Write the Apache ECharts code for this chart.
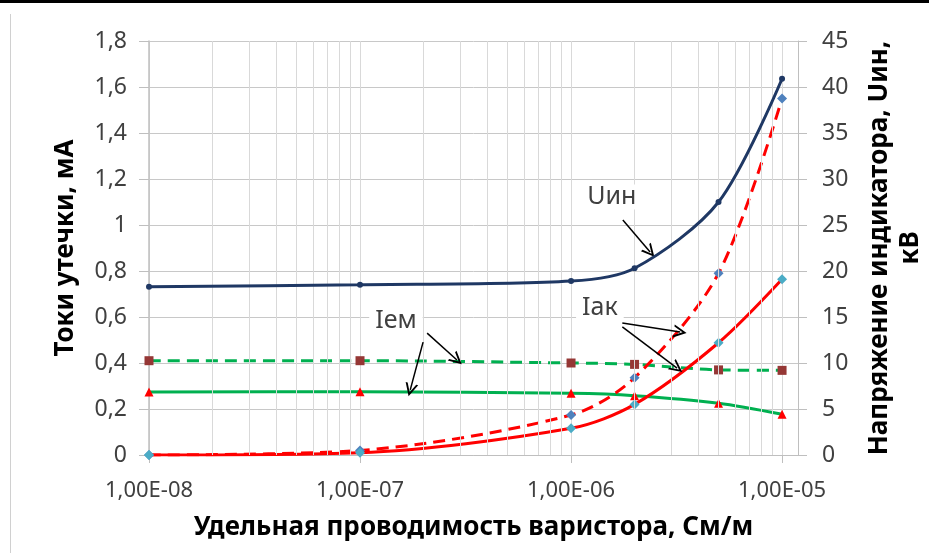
<!DOCTYPE html>
<html>
<head>
<meta charset="utf-8">
<script src="https://cdn.jsdelivr.net/npm/echarts@6/dist/echarts.min.js"></script>
<style>
  html, body { margin: 0; padding: 0; background: #fff; }
  #chart { width: 929px; height: 553px; }
</style>
</head>
<body>
<div id="chart"></div>
<script>
  // удельная проводимость варистора, См/м
  var sigma = [1e-8, 1e-7, 1e-6, 2e-6, 5e-6, 1e-5];
  // напряжение индикатора, кВ (правая ось)
  var uIn = [18.3, 18.5, 18.9, 20.3, 27.5, 40.9];
  // токи утечки, мА
  var iakDash = [0, 0.02, 0.174, 0.336, 0.79, 1.55];
  var iakSolid = [0, 0.01, 0.116, 0.22, 0.488, 0.764];
  var iemDash = [0.41, 0.41, 0.40, 0.394, 0.37, 0.368];
  var iemSolid = [0.274, 0.275, 0.268, 0.258, 0.225, 0.177];

  var leftTicks = [0, 0.2, 0.4, 0.6, 0.8, 1, 1.2, 1.4, 1.6, 1.8];
  var rightTicks = [0, 5, 10, 15, 20, 25, 30, 35, 40, 45];
  var xMinor = [2e-8, 3e-8, 4e-8, 5e-8, 6e-8, 7e-8, 8e-8, 9e-8,
                2e-7, 3e-7, 4e-7, 5e-7, 6e-7, 7e-7, 8e-7, 9e-7,
                2e-6, 3e-6, 4e-6, 5e-6, 6e-6, 7e-6, 8e-6, 9e-6];

  // подписи и стрелки (в координатах данных)
  var notes = [
    { text: 'Uин', at: [1.56e-6, 1.122] },
    { text: 'Iем', at: [1.48e-7, 0.583] },
    { text: 'Iак', at: [1.37e-6, 0.639] }
  ];
  var arrows = [
    [[1.76e-6, 1.022], [2.37e-6, 0.883]],
    [[1.99e-7, 0.491], [1.73e-7, 0.283]],
    [[2.08e-7, 0.530], [2.88e-7, 0.413]],
    [[1.75e-6, 0.574], [3.29e-6, 0.535]],
    [[1.75e-6, 0.557], [3.18e-6, 0.378]]
  ];

  function pairs(ys) {
    return sigma.map(function (x, i) { return [x, ys[i]]; });
  }

  var font = 'Noto Sans';
  var labelColor = '#404040';
  var titleSize = 26;
  // открытая стрелка (галочка), остриё вверху
  var openArrow = 'path://M5,0 L10,10 L8.4,10 L5,3.2 L1.6,10 L0,10 Z';

  var myChart = echarts.init(document.getElementById('chart'));
  var option = {
    animation: false,
    textStyle: { fontFamily: font },
    grid: { left: 149, right: 131, top: 41, bottom: 98, containLabel: false, outerBoundsMode: 'none' },
    graphic: [
      { type: 'rect', left: 0, top: 0, shape: { width: 929, height: 3 }, style: { fill: '#000' } },
      { type: 'rect', left: 10, top: 14, shape: { width: 1, height: 539 }, style: { fill: '#d0d0d0' } }
    ],
    xAxis: {
      type: 'log',
      logBase: 10,
      min: 1e-8,
      max: 1.19e-5,
      name: 'Удельная проводимость варистора, См/м',
      nameLocation: 'middle',
      nameGap: 60,
      nameTextStyle: { fontFamily: font, fontWeight: 'bold', fontSize: titleSize, color: '#000' },
      axisLine: { show: true, lineStyle: { color: '#bfbfbf', width: 1 } },
      axisTick: { show: true, inside: false, length: 8, lineStyle: { color: '#bfbfbf' } },
      axisLabel: {
        fontSize: 22, color: labelColor, margin: 25,
        showMaxLabel: false,
        formatter: function (v) {
          var e = Math.log(v) / Math.LN10;
          var r = Math.round(e);
          if (Math.abs(e - r) > 1e-6) return '';
          return '1,00E-' + (Math.abs(r) < 10 ? '0' : '') + Math.abs(r);
        }
      },
      splitLine: { show: true, lineStyle: { color: '#d9d9d9', width: 1 } }
    },
    yAxis: [
      {
        type: 'value',
        min: 0, max: 1.8, interval: 0.2,
        name: 'Токи утечки, мА',
        nameLocation: 'middle',
        nameRotate: 90,
        nameGap: 70,
        nameTextStyle: { fontFamily: font, fontWeight: 'bold', fontSize: titleSize, color: '#000' },
        axisLine: { show: true, lineStyle: { color: '#bfbfbf', width: 1.5 } },
        axisTick: { show: true, length: 10, lineStyle: { color: '#bfbfbf' } },
        axisLabel: {
          fontSize: 23, color: labelColor, margin: 22,
          formatter: function (v) {
            var t = leftTicks.find(function (k) { return Math.abs(k - v) < 1e-9; });
            return t === undefined ? '' : String(t).replace('.', ',');
          }
        },
        splitLine: { show: true, lineStyle: { color: '#c8c8c8', width: 1 } }
      },
      {
        type: 'value',
        min: 0, max: 45, interval: 5,
        position: 'right',
        name: 'Напряжение индикатора, Uин,\nкВ',
        nameLocation: 'middle',
        nameRotate: 90,
        nameGap: 66,
        nameTextStyle: { fontFamily: font, fontWeight: 'bold', fontSize: titleSize, color: '#000', lineHeight: 31, align: 'center' },
        axisLine: { show: true, lineStyle: { color: '#bfbfbf', width: 1 } },
        axisTick: { show: true, length: 9, lineStyle: { color: '#bfbfbf' } },
        axisLabel: {
          fontSize: 23, color: labelColor, margin: 24,
          formatter: function (v) {
            return rightTicks.indexOf(v) < 0 ? '' : String(v);
          }
        },
        splitLine: { show: false }
      }
    ],
    series: [
      {
        // служебная серия: только промежуточные вертикальные линии сетки
        name: 'minor',
        type: 'line',
        data: pairs(iemDash),
        silent: true,
        symbol: 'none',
        lineStyle: { opacity: 0 },
        z: 1,
        markLine: {
          silent: true,
          symbol: ['none', 'none'],
          label: { show: false },
          lineStyle: { color: '#d9d9d9', width: 1, type: 'solid' },
          data: xMinor.map(function (v) {
            return [{ coord: [v, leftTicks[0]] }, { coord: [v, leftTicks[leftTicks.length - 1]] }];
          })
        }
      },
      {
        name: 'Iем пунктир',
        type: 'line',
        z: 3,
        smooth: 0.3,
        data: pairs(iemDash),
        symbol: 'rect',
        symbolSize: 9,
        itemStyle: { color: '#953735' },
        lineStyle: { color: '#00b050', width: 3, type: [12, 7] }
      },
      {
        name: 'Iем',
        type: 'line',
        z: 3,
        smooth: 0.3,
        data: pairs(iemSolid),
        symbol: 'triangle',
        symbolSize: 9,
        itemStyle: { color: '#ff0000' },
        lineStyle: { color: '#00b050', width: 3 },
        markPoint: {
          silent: true,
          symbol: 'rect',
          symbolSize: 0,
          label: {
            show: true,
            position: 'inside',
            fontSize: 25,
            color: labelColor,
            backgroundColor: '#fff',
            padding: [0, 6]
          },
          data: notes.map(function (n) { return { coord: n.at, value: n.text, label: { formatter: n.text } }; })
        },
        markLine: {
          silent: true,
          symbol: ['none', openArrow],
          symbolSize: [13, 13],
          label: { show: false },
          itemStyle: { color: '#000' },
          lineStyle: { color: '#000', width: 1.5, type: 'solid' },
          data: arrows.map(function (a) { return [{ coord: a[0] }, { coord: a[1] }]; })
        }
      },
      {
        name: 'Iак пунктир',
        type: 'line',
        z: 4,
        smooth: 0.3,
        data: pairs(iakDash),
        symbol: 'diamond',
        symbolSize: 10,
        itemStyle: { color: '#4f81bd' },
        lineStyle: { color: '#ff0000', width: 3, type: [12, 7] }
      },
      {
        name: 'Iак',
        type: 'line',
        z: 4,
        smooth: 0.3,
        data: pairs(iakSolid),
        symbol: 'diamond',
        symbolSize: 10,
        itemStyle: { color: '#4bacc6' },
        lineStyle: { color: '#ff0000', width: 3 }
      },
      {
        name: 'Uин',
        type: 'line',
        yAxisIndex: 1,
        z: 5,
        smooth: 0.3,
        data: pairs(uIn),
        symbol: 'circle',
        symbolSize: 6,
        itemStyle: { color: '#1f3864' },
        lineStyle: { color: '#1f3864', width: 3 }
      }
    ]
  };
  myChart.setOption(option);
</script>
</body>
</html>
